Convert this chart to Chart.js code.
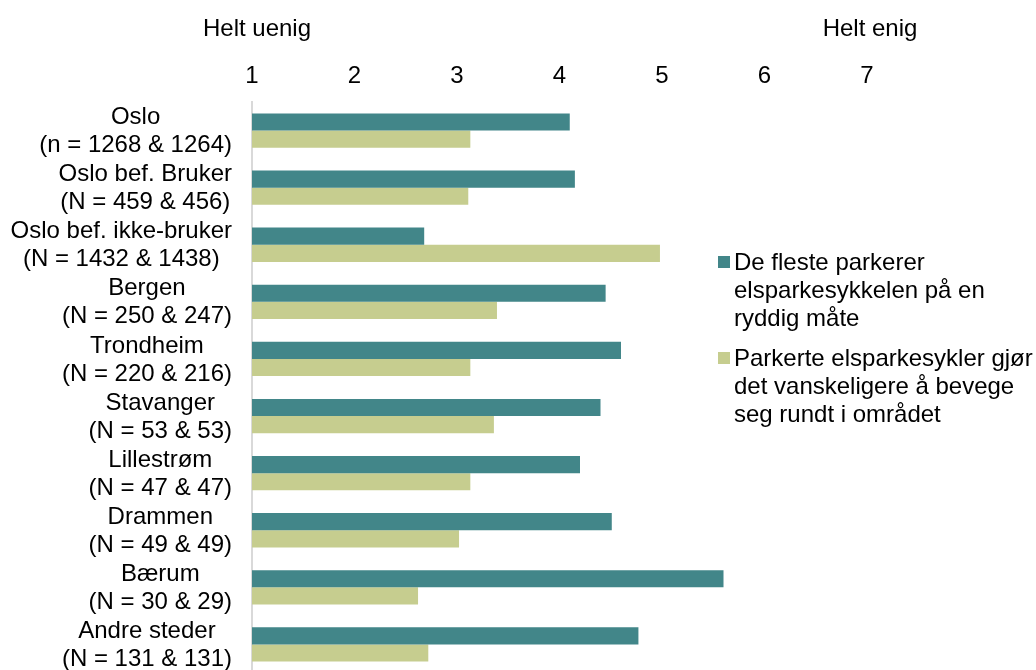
<!DOCTYPE html>
<html lang="no">
<head>
<meta charset="UTF-8">
<title>Parkering av elsparkesykler</title>
<script src="https://cdn.jsdelivr.net/npm/chart.js@4"></script>
<style>
  body { margin: 0; overflow: hidden; background: #fff; font-family: "Liberation Sans", Arial, sans-serif; color: #000; }
  #wrap { position: relative; width: 1036px; height: 676px; }
  .ends { position: absolute; top: 14px; font-size: 24px; transform: translateX(-50%); white-space: nowrap; }
  #legend { position: absolute; left: 718px; top: 248px; font-size: 24px; line-height: 28px; }
  .item { display: flex; align-items: flex-start; margin-bottom: 12px; }
  .box { width: 12px; height: 12px; margin: 8px 4px 0 0; flex: none; }
</style>
</head>
<body>
<div id="wrap">
  <canvas id="chart" width="1036" height="676"></canvas>
  <div class="ends" style="left:257px">Helt uenig</div>
  <div class="ends" style="left:870px">Helt enig</div>
  <div id="legend"></div>
</div>
<script>
  // categories (two-line labels)
  const places = [
    ['Oslo', '(n = 1268 & 1264)'],
    ['Oslo bef. Bruker', '(N = 459 & 456)'],
    ['Oslo bef. ikke-bruker', '(N = 1432 & 1438)'],
    ['Bergen', '(N = 250 & 247)'],
    ['Trondheim', '(N = 220 & 216)'],
    ['Stavanger', '(N = 53 & 53)'],
    ['Lillestrøm', '(N = 47 & 47)'],
    ['Drammen', '(N = 49 & 49)'],
    ['Bærum', '(N = 30 & 29)'],
    ['Andre steder', '(N = 131 & 131)']
  ];
  // mean scores, 1-7 scale
  const ryddig = [4.10, 4.15, 2.68, 4.45, 4.60, 4.40, 4.20, 4.51, 5.60, 4.77];
  const vanskeligere = [3.13, 3.11, 4.98, 3.39, 3.13, 3.36, 3.13, 3.02, 2.62, 2.72];
  const seriesNames = [
    'De fleste parkerer<br>elsparkesykkelen på en<br>ryddig måte',
    'Parkerte elsparkesykler gjør<br>det vanskeligere å bevege<br>seg rundt i området'
  ];
  const colors = ['#428689', '#C6CD8F'];

  // legend sits over the right part of the plot, like the original
  const legend = document.getElementById('legend');
  seriesNames.forEach((name, i) => {
    const el = document.createElement('div');
    el.className = 'item';
    el.innerHTML = `<span class="box" style="background:${colors[i]}"></span><span>${name}</span>`;
    legend.appendChild(el);
  });

  const fontFamily = '"Liberation Sans", Arial, sans-serif';
  const font = { family: fontFamily, size: 24 };

  // y labels: each block right-aligned to the axis, lines centred inside the block
  const blockLabels = {
    id: 'blockLabels',
    afterDraw(chart) {
      const y = chart.scales.y;
      const ctx = chart.ctx;
      ctx.save();
      ctx.font = `24px ${fontFamily}`;
      ctx.fillStyle = '#000';
      ctx.textAlign = 'center';
      ctx.textBaseline = 'middle';
      const right = y.right - 20;
      chart.data.labels.forEach((lines, i) => {
        const w = Math.max(...lines.map(t => ctx.measureText(t).width));
        const cx = right - w / 2;
        const cy = y.getPixelForTick(i);
        lines.forEach((t, k) => {
          ctx.fillText(t, cx, cy + (k - (lines.length - 1) / 2) * 28 + 1);
        });
      });
      ctx.restore();
    }
  };

  new Chart(document.getElementById('chart'), {
    type: 'bar',
    data: {
      labels: places,
      datasets: [
        { label: 'De fleste parkerer elsparkesykkelen på en ryddig måte', data: ryddig, backgroundColor: colors[0] },
        { label: 'Parkerte elsparkesykler gjør det vanskeligere å bevege seg rundt i området', data: vanskeligere, backgroundColor: colors[1] }
      ]
    },
    options: {
      indexAxis: 'y',
      responsive: false,
      animation: false,
      layout: { padding: { top: 0, right: 169, bottom: 3, left: 0 } },
      datasets: { bar: { categoryPercentage: 0.6, barPercentage: 1.0 } },
      scales: {
        x: {
          position: 'top',
          min: 1,
          max: 7,
          grid: { display: false, drawTicks: false },
          border: { display: false },
          ticks: { stepSize: 1, color: '#000', font: font, padding: 11 },
          afterFit: s => { s.height = 102; s.paddingLeft = 0; s.paddingRight = 0; }
        },
        y: {
          grid: { display: false, drawTicks: false },
          border: { display: true, color: '#d9d9d9', width: 2 },
          ticks: { display: false, autoSkip: false },
          afterFit: s => { s.width = 252; s.paddingTop = 0; s.paddingBottom = 0; }
        }
      },
      plugins: {
        legend: { display: false },
        tooltip: { enabled: false }
      }
    },
    plugins: [blockLabels]
  });
</script>
</body>
</html>
